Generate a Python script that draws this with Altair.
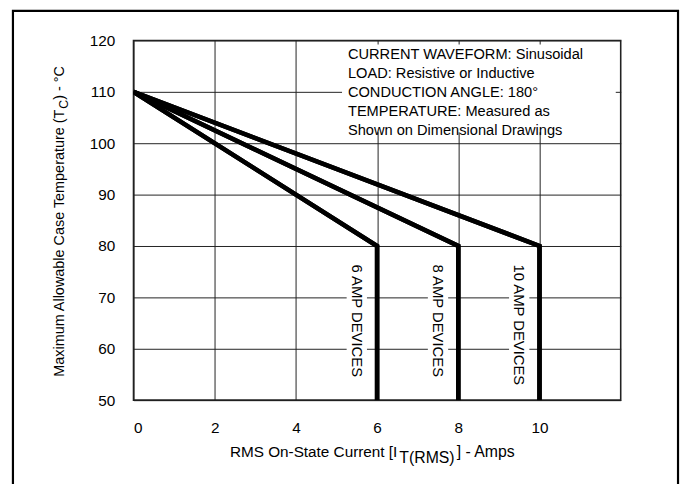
import altair as alt
import pandas as pd

# ---- data ----
currents = [6, 8, 10]                      # device ratings (A), knee current
series_labels = ["6 AMP DEVICES", "8 AMP DEVICES", "10 AMP DEVICES"]
start_current = [0, 0, 0]
start_temp = [110, 110, 110]
knee_temp = [80, 80, 80]
floor_temp = [50, 50, 50]
x_ticks = [0, 2, 4, 6, 8, 10]
y_ticks = [50, 60, 70, 80, 90, 100, 110, 120]
note_lines = [
    "CURRENT WAVEFORM: Sinusoidal",
    "LOAD: Resistive or Inductive",
    "CONDUCTION ANGLE: 180\u00b0",
    "TEMPERATURE: Measured as",
    "Shown on Dimensional Drawings",
]

FONT = "Liberation Sans"

rows = []
for i, c in enumerate(currents):
    pts = [(start_current[i], start_temp[i]), (c, knee_temp[i]), (c, floor_temp[i])]
    for k, (xv, yv) in enumerate(pts):
        rows.append({"series": series_labels[i], "order": k, "x": xv, "y": yv})
lines_df = pd.DataFrame(rows)

lab_df = pd.DataFrame({
    "label": series_labels,
    "xc": [c - 0.5 for c in currents],
    "bx": [c - 0.75 for c in currents],
    "bx2": [c - 0.25 for c in currents],
    "ty": [76.4] * 3,
    "by": [51.5] * 3,
    "by2": [77.2] * 3,
})

one = pd.DataFrame({"k": [0]})

xs = alt.Scale(domain=[0, 12], nice=False, zero=False)
ys = alt.Scale(domain=[50, 120], nice=False, zero=False)

axis_style = dict(
    title=None, grid=True, domain=False, ticks=False, tickSize=0,
    labelFont=FONT, labelFontSize=15.5, labelColor="black",
    gridColor="#222", gridWidth=1, gridOpacity=1,
)
x_axis = alt.Axis(values=x_ticks, labelPadding=21, **axis_style)
y_axis = alt.Axis(values=y_ticks, labelPadding=19, **axis_style)

base_lines = alt.Chart(lines_df).mark_line(
    color="black", strokeWidth=4.6, strokeJoin="miter", strokeCap="butt", clip=True
).encode(
    x=alt.X("x:Q", scale=xs, axis=x_axis),
    y=alt.Y("y:Q", scale=ys, axis=y_axis),
    detail="series:N",
    order="order:Q",
)

label_boxes = alt.Chart(lab_df).mark_rect(color="white").encode(
    x=alt.X("bx:Q", scale=xs), x2="bx2:Q",
    y=alt.Y("by:Q", scale=ys), y2="by2:Q",
)

label_text = alt.Chart(lab_df).mark_text(
    angle=90, align="left", baseline="middle", font=FONT, fontSize=15, color="black"
).encode(
    x=alt.X("xc:Q", scale=xs), y=alt.Y("ty:Q", scale=ys), text="label:N"
)

note_box = alt.Chart(one).mark_rect(color="white").encode(
    x=alt.value(211), x2=alt.value(488), y=alt.value(4), y2=alt.value(93)
)

note_text = alt.Chart(one).mark_text(
    align="left", baseline="alphabetic", font=FONT, fontSize=14.8,
    lineHeight=19.2, color="black", text=note_lines
).encode(x=alt.value(217), y=alt.value(19))

# x-axis title with subscript
xt_main = alt.Chart(one).mark_text(
    align="right", baseline="alphabetic", font=FONT, fontSize=15.5, color="black",
    text="RMS On-State Current [I"
).encode(x=alt.value(267), y=alt.value(422))
xt_sub = alt.Chart(one).mark_text(
    align="left", baseline="alphabetic", font=FONT, fontSize=16, color="black",
    text="T(RMS)"
).encode(x=alt.value(269), y=alt.value(428))
xt_end = alt.Chart(one).mark_text(
    align="left", baseline="alphabetic", font=FONT, fontSize=16, color="black",
    text="] - Amps"
).encode(x=alt.value(327), y=alt.value(422))

# y-axis title with subscript (rotated)
yt_main = alt.Chart(one).mark_text(
    align="right", baseline="alphabetic", angle=270, font=FONT, fontSize=14.6,
    color="black", text="Maximum Allowable Case Temperature (T"
).encode(x=alt.value(-70), y=alt.value(70))
yt_sub = alt.Chart(one).mark_text(
    align="left", baseline="alphabetic", angle=270, font=FONT, fontSize=12.5,
    color="black", text="C"
).encode(x=alt.value(-66), y=alt.value(69))
yt_end = alt.Chart(one).mark_text(
    align="left", baseline="alphabetic", angle=270, font=FONT, fontSize=14.6,
    color="black", text=") - \u00b0C"
).encode(x=alt.value(-70), y=alt.value(60))

frame = alt.Chart(one).mark_rect(
    fillOpacity=0, stroke="black", strokeWidth=2.2, clip=False
).encode(x=alt.value(-122), x2=alt.value(551), y=alt.value(-30), y2=alt.value(470))

chart = alt.layer(
    base_lines, label_boxes, note_box, base_lines, label_text, note_text,
    xt_main, xt_sub, xt_end, yt_main, yt_sub, yt_end, frame
).properties(
    width=493, height=364,
    background="white",
    autosize=alt.AutoSizeParams(type="none"),
    padding={"left": 127, "top": 30, "right": 60, "bottom": 82},
).configure_view(
    stroke="#222", strokeWidth=1.6
)

chart.save("out.html", embed_options={"renderer": "svg", "actions": False})
